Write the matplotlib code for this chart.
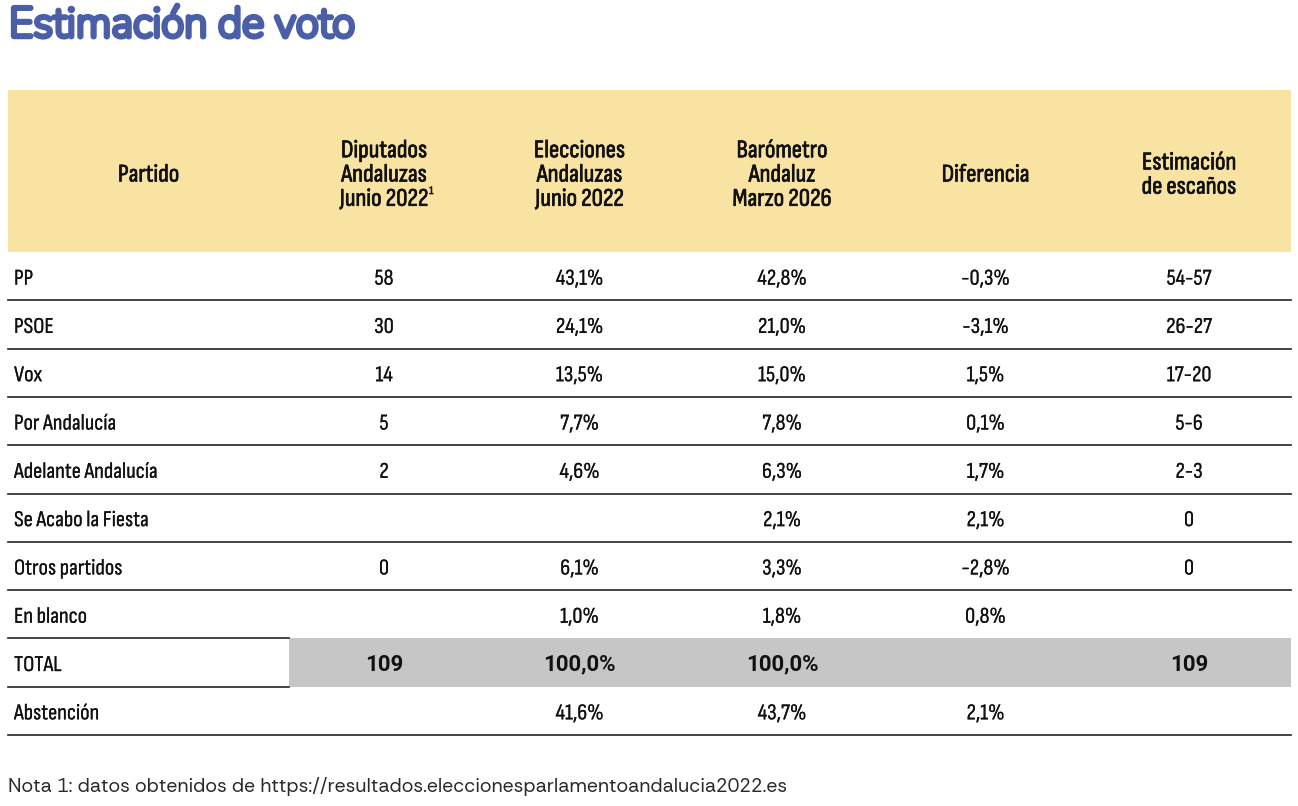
import matplotlib
matplotlib.use("Agg")
import matplotlib.pyplot as plt
import matplotlib.patheffects as pe
from matplotlib.patches import Rectangle

# === datos ===
partidos = ["PP", "PSOE", "Vox", "Por Andalucía", "Adelante Andalucía",
            "Se Acabo la Fiesta", "Otros partidos", "En blanco", "TOTAL", "Abstención"]
diputados_2022 = [58, 30, 14, 5, 2, None, 0, None, 109, None]
elecciones_2022 = [43.1, 24.1, 13.5, 7.7, 4.6, None, 6.1, 1.0, 100.0, 41.6]
barometro_2026 = [42.8, 21.0, 15.0, 7.8, 6.3, 2.1, 3.3, 1.8, 100.0, 43.7]
diferencia = [-0.3, -3.1, 1.5, 0.1, 1.7, 2.1, -2.8, 0.8, None, 2.1]
escanos = ["54-57", "26-27", "17-20", "5-6", "2-3", "0", "0", "", "109", ""]

encabezados = ["Partido", "Diputados\nAndaluzas\nJunio 2022", "Elecciones\nAndaluzas\nJunio 2022",
               "Barómetro\nAndaluz\nMarzo 2026", "Diferencia", "Estimación\nde escaños"]

titulo = "Estimación de voto"
nota = "Nota 1: datos obtenidos de https://resultados.eleccionesparlamentoandalucia2022.es"


def pct(v):
    if v is None:
        return ""
    return f"{v:.1f}".replace(".", ",") + "%"


def num(v):
    return "" if v is None else str(v)


columnas = [
    [num(v) for v in diputados_2022],
    [pct(v) for v in elecciones_2022],
    [pct(v) for v in barometro_2026],
    [pct(v) for v in diferencia],
    escanos,
]

# === layout (pixeles) ===
W, H = 1298, 806
x_left, x_right = 8, 1291
col_edges = [x_left, 289, 479, 680, 884, 1087, x_right]
head_top, head_bot = 90, 252
row_h = (735 - head_bot) / len(partidos)
total_idx = partidos.index("TOTAL")

cond = ["Sofia Sans Condensed", "Liberation Sans", "DejaVu Sans"]
bold_sans = ["Roboto", "Liberation Sans", "DejaVu Sans"]
yellow = "#f8e3a3"
gray = "#c6c6c6"
blue = "#4a5fa8"
ink = "#111111"

# las fuentes variables salen finas -> engordar con trazo
semi = [pe.withStroke(linewidth=0.5, foreground=ink)]
regular = [pe.withStroke(linewidth=0.1, foreground=ink)]

fig = plt.figure(figsize=(W / 100, H / 100), dpi=100)
ax = fig.add_axes([0, 0, 1, 1])
ax.set_xlim(0, W)
ax.set_ylim(H, 0)
ax.axis("off")

# titulo
ax.text(x_left + 1, 26, titulo, fontsize=30.5, color=blue,
        family=["Nunito", "Lato", "DejaVu Sans"], ha="left", va="center",
        path_effects=[pe.withStroke(linewidth=3.2, foreground=blue, capstyle="round",
                                    joinstyle="round")])

# cabecera
ax.add_patch(Rectangle((x_left, head_top), x_right - x_left, head_bot - head_top,
                       facecolor=yellow, edgecolor="none"))
head_y = (head_top + head_bot) / 2 + 4
for j, h in enumerate(encabezados):
    cx = (col_edges[j] + col_edges[j + 1]) / 2
    ax.text(cx, head_y, h, fontsize=18.3, family=cond,
            ha="center", va="center", linespacing=1.07, color=ink, path_effects=semi)

# superindice "1" en Junio 2022
fig.canvas.draw()
r = fig.canvas.get_renderer()
probe = ax.text(0, 0, "Junio 2022", fontsize=18.3, family=cond)
wpx = probe.get_window_extent(r).width
probe.remove()
cx1 = (col_edges[1] + col_edges[2]) / 2
ax.text(cx1 + wpx / 2 + 1, head_y + 16, "1", fontsize=8, family=cond,
        ha="left", va="center", color=ink, path_effects=semi)

# filas
for i, p in enumerate(partidos):
    y0 = head_bot + i * row_h
    y1 = y0 + row_h
    yc = (y0 + y1) / 2 + 3
    if i == total_idx:
        ax.add_patch(Rectangle((col_edges[1], y0), x_right - col_edges[1], row_h,
                               facecolor=gray, edgecolor="none"))
    ax.text(14, yc, p, fontsize=16.3, family=cond, ha="left", va="center", color=ink,
            path_effects=regular)
    for j, col in enumerate(columnas):
        cx = (col_edges[j + 1] + col_edges[j + 2]) / 2
        if i == total_idx:
            ax.text(cx, yc - 1, col[i], fontsize=16, family=bold_sans,
                    fontweight="bold", ha="center", va="center", color=ink)
        else:
            ax.text(cx, yc, col[i], fontsize=16.3, family=cond,
                    ha="center", va="center", color=ink, path_effects=regular)
    # linea inferior
    if i in (total_idx - 1, total_idx):
        ax.plot([x_left, col_edges[1]], [y1, y1], color="#222222", lw=1.2)
    else:
        ax.plot([x_left, x_right], [y1, y1], color="#222222", lw=1.2)

# nota
ax.text(x_left, 786, nota, fontsize=14.0, family=["Rethink Sans", "Open Sans", "DejaVu Sans"],
        ha="left", va="center", color="#2a2a2a")

fig.savefig("out.png", dpi=100)
